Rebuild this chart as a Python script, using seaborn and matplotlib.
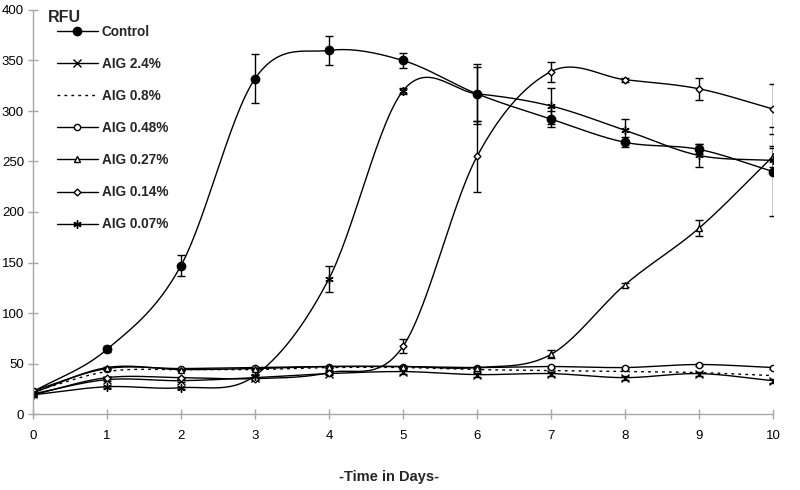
import numpy as np
import pandas as pd
import matplotlib
matplotlib.use("Agg")
import matplotlib.pyplot as plt
from matplotlib.lines import Line2D
import seaborn as sns

days = [0, 1, 2, 3, 4, 5, 6, 7, 8, 9, 10]
series_names = ["Control", "AIG 2.4%", "AIG 0.8%", "AIG 0.48%", "AIG 0.27%", "AIG 0.14%", "AIG 0.07%"]

control = [22, 64, 147, 332, 360, 350, 317, 292, 269, 262, 240]
control_err = [2, 3, 10, 24, 14, 7, 30, 8, 5, 5, 44]
aig_2_4 = [20, 34, 33, 36, 40, 42, 39, 40, 36, 40, 33]
aig_2_4_err = [1, 1, 1, 1, 1, 2, 2, 2, 2, 2, 2]
aig_0_8 = [22, 42, 44, 44, 46, 46, 44, 43, 42, 41, 38]
aig_0_8_err = [0, 0, 0, 0, 0, 0, 0, 0, 0, 0, 0]
aig_0_48 = [23, 45, 45, 46, 47, 47, 46, 47, 46, 49, 46]
aig_0_48_err = [1, 1, 1, 1, 1, 1, 1, 1, 1, 1, 1]
aig_0_27 = [21, 46, 44, 45, 47, 47, 46, 59, 128, 184, 255]
aig_0_27_err = [1, 1, 1, 1, 1, 1, 1, 4, 2, 8, 10]
aig_0_14 = [19, 36, 36, 35, 41, 67, 255, 339, 331, 322, 302]
aig_0_14_err = [1, 1, 1, 1, 1, 7, 35, 10, 2, 11, 25]
aig_0_07 = [19, 27, 26, 38, 134, 320, 317, 305, 281, 256, 251]
aig_0_07_err = [1, 1, 1, 1, 13, 3, 27, 18, 11, 11, 12]

values = [control, aig_2_4, aig_0_8, aig_0_48, aig_0_27, aig_0_14, aig_0_07]
errors = [control_err, aig_2_4_err, aig_0_8_err, aig_0_48_err, aig_0_27_err, aig_0_14_err, aig_0_07_err]

styles = [
    dict(marker="o", mfc="black", ms=6, ls="-"),
    dict(marker="x", mfc="none", ms=5.5, ls="-"),
    dict(marker=None, mfc="none", ms=0, ls=(0, (2, 3))),
    dict(marker="o", mfc="white", ms=4.5, ls="-"),
    dict(marker="^", mfc="white", ms=4.5, ls="-"),
    dict(marker="D", mfc="white", ms=3.5, ls="-"),
    dict(marker=(6, 2, 0), mfc="none", ms=6, ls="-"),
]


def catmull_rom(xs, ys, n=30):
    xs = np.asarray(xs, float)
    ys = np.asarray(ys, float)
    px = np.concatenate([[2 * xs[0] - xs[1]], xs, [2 * xs[-1] - xs[-2]]])
    py = np.concatenate([[2 * ys[0] - ys[1]], ys, [2 * ys[-1] - ys[-2]]])
    ox, oy = [], []
    t = np.linspace(0, 1, n, endpoint=False)
    for i in range(1, len(px) - 2):
        p0 = np.array([px[i - 1], py[i - 1]])
        p1 = np.array([px[i], py[i]])
        p2 = np.array([px[i + 1], py[i + 1]])
        p3 = np.array([px[i + 2], py[i + 2]])
        c1 = p1 + (p2 - p0) / 6
        c2 = p2 - (p3 - p1) / 6
        for tt in t:
            b = ((1 - tt) ** 3) * p1 + 3 * ((1 - tt) ** 2) * tt * c1 + 3 * (1 - tt) * tt ** 2 * c2 + tt ** 3 * p2
            ox.append(b[0])
            oy.append(b[1])
    ox.append(xs[-1])
    oy.append(ys[-1])
    return np.array(ox), np.array(oy)


sns.set_theme(style="white")
plt.rcParams["font.family"] = ["Liberation Sans", "DejaVu Sans"]

fig = plt.figure(figsize=(8, 4.9), dpi=100)
ax = fig.add_axes([33 / 800, 1 - 414 / 490, 740 / 800, 404 / 490])

for name, vals, errs, st in zip(series_names, values, errors, styles):
    sx, sy = catmull_rom(days, vals)
    sns.lineplot(x=sx, y=sy, ax=ax, color="black", lw=1.0, sort=False, estimator=None)
    if st["ls"] != "-":
        ax.lines[-1].set_linestyle(st["ls"])
    if st["marker"] is not None:
        ax.errorbar(days, vals, yerr=errs, fmt="none", ecolor="black", elinewidth=1.0, capsize=3, capthick=1.0)
        ax.plot(days, vals, linestyle="none", marker=st["marker"], mfc=st["mfc"], mec="black",
                ms=st["ms"], mew=1.0, color="black")

ax.set_xlim(0, 10)
ax.set_ylim(0, 400)
ax.set_xticks(range(0, 11))
ax.set_yticks(range(0, 401, 50))
ax.set_xlabel("")
ax.set_ylabel("")
for s in ["top", "right"]:
    ax.spines[s].set_visible(False)
for s in ["left", "bottom"]:
    ax.spines[s].set_color("#a8a8a8")
    ax.spines[s].set_linewidth(1.0)
ax.tick_params(axis="both", which="both", direction="inout", length=7, width=1.0, color="#a8a8a8",
               labelsize=9.5, labelcolor="black", left=True, bottom=True)
ax.tick_params(axis="x", pad=8)
ax.tick_params(axis="y", pad=3)
ax.set_facecolor("white")

fig.text(48 / 800, 1 - 18 / 490, "RFU", fontsize=11.5, fontweight="bold", va="center", ha="left")
fig.text(389 / 800, 1 - 477 / 490, "-Time in Days-", fontsize=10.5, fontweight="bold", va="center", ha="center")

handles = []
for st in styles:
    handles.append(Line2D([], [], color="black", lw=1.0, linestyle=st["ls"], marker=st["marker"],
                          mfc=st["mfc"], mec="black", ms=st["ms"], mew=1.0))
leg = fig.legend(handles, series_names, loc="upper left", bbox_to_anchor=(50 / 800, 1 - 18 / 490),
                 frameon=False, handlelength=3.0, handletextpad=0.3, labelspacing=1.33,
                 borderpad=0, prop=dict(weight="bold", size=9.8))

fig.savefig("out.png", dpi=100, facecolor="white")
